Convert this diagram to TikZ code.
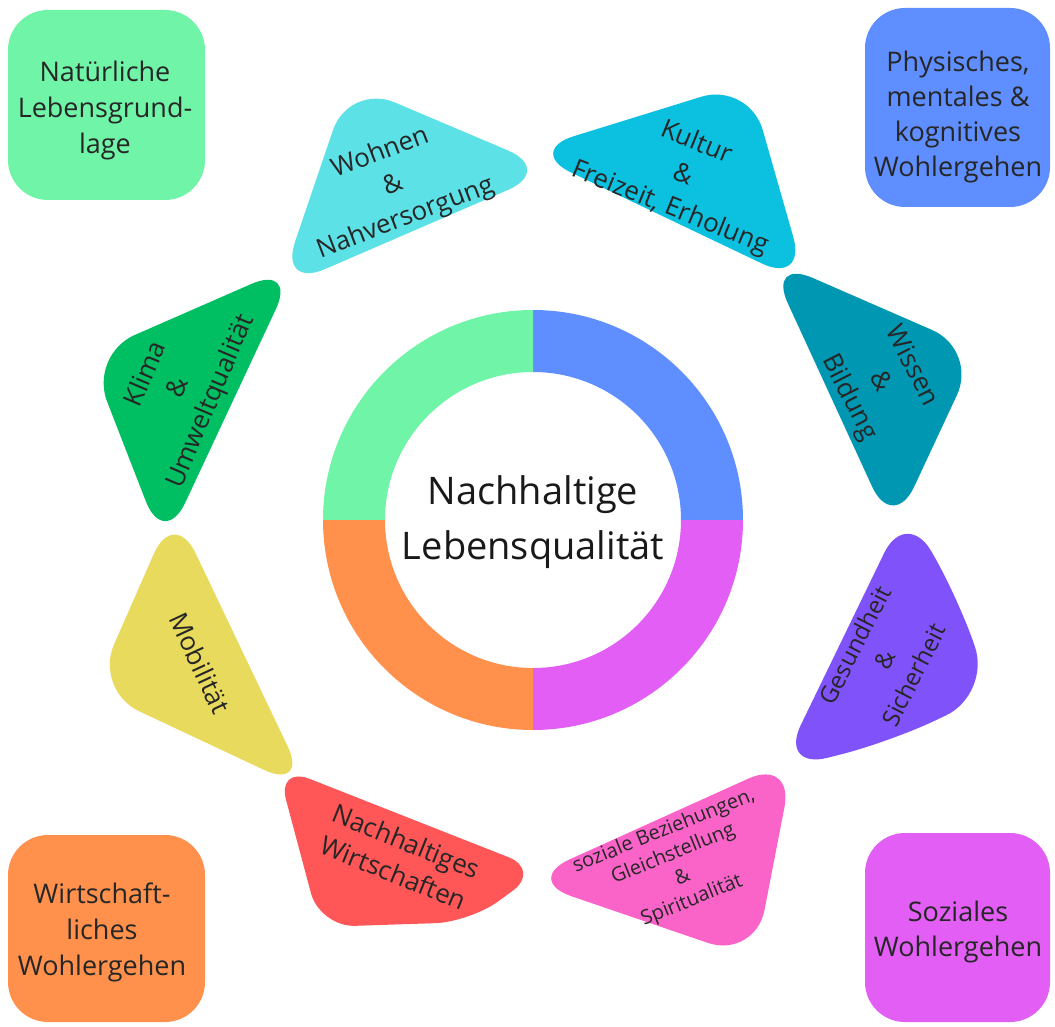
\documentclass[tikz,border=0pt]{standalone}
\usepackage{fontspec}
\setmainfont{Open Sans}
\usetikzlibrary{positioning}
\definecolor{LQGreen}{RGB}{112,245,168}
\definecolor{LQBlue}{RGB}{94,142,255}
\definecolor{LQOrange}{RGB}{255,145,77}
\definecolor{LQMagenta}{RGB}{226,94,245}
\definecolor{LQTurq}{RGB}{92,225,230}
\definecolor{LQCyan}{RGB}{12,192,223}
\definecolor{LQLeaf}{RGB}{0,191,99}
\definecolor{LQTeal}{RGB}{0,151,178}
\definecolor{LQYellow}{RGB}{232,218,92}
\definecolor{LQViolet}{RGB}{128,82,250}
\definecolor{LQRed}{RGB}{255,87,87}
\definecolor{LQPink}{RGB}{250,100,200}

\begin{document}
\begin{tikzpicture}[x=1pt, y=1pt,
    corner/.style={rounded corners=40pt},
    blob/.style={rounded corners=50pt},
    cornertext/.style={align=center, font=\fontsize{27}{36}\selectfont, text=black!85},
    blobtext/.style={align=center, font=\fontsize{26}{35}\selectfont, text=black!85}
  ]
  \useasboundingbox (0,0) rectangle (1055,-1027);
  \fill[white] (0,0) rectangle (1055,-1027);

  % corner boxes
  \fill[LQGreen, corner]   (8,-10)   rectangle (205,-200);
  \fill[LQBlue, corner]    (865,-8)  rectangle (1050,-207);
  \fill[LQOrange, corner]  (8,-835)  rectangle (205,-1022);
  \fill[LQMagenta, corner] (865,-833) rectangle (1050,-1022);

  \node[cornertext] (natur) at (105,-110) {Natürliche\\Lebensgrund-\\lage};
  \node[cornertext, font=\fontsize{27}{35}\selectfont] (physis) at (958,-117)
        {Physisches,\\mentales \&\\kognitives\\Wohlergehen};
  \node[cornertext] (wirt) at (102,-932) {Wirtschaft-\\liches\\Wohlergehen};
  \node[cornertext, font=\fontsize{27}{35}\selectfont] (sozwohl) at (958,-932)
        {Soziales\\Wohlergehen};

  % ring
  \foreach \a/\c in {0/LQBlue, 90/LQGreen, 180/LQOrange, 270/LQMagenta} {
    \fill[\c] (533,-520) ++(\a:148) -- ++(\a:62)
      arc[start angle=\a, end angle=\a+90, radius=210]
      -- ++(\a+270:62)
      arc[start angle=\a+90, end angle=\a, radius=148] -- cycle;
  }
  \node[align=center, font=\fontsize{38}{55}\selectfont, text=black!90] (core)
        at (533,-522) {Nachhaltige\\Lebensqualität};

  % blobs
  \fill[LQTurq, blob]   (349,-83)  -- (554,-170) -- (279,-289) -- cycle;
  \fill[LQCyan, blob]   (526,-151) -- (749,-82)  -- (807,-285) -- cycle;
  \fill[LQLeaf, blob]   (297,-264) -- (89,-355)  -- (164,-548) -- cycle;
  \fill[LQTeal, blob]   (767,-258) -- (978,-350) -- (893,-532) -- cycle;
  \fill[LQYellow, blob] (174,-508) -- (94,-690)  -- (309,-791) -- cycle;
  \fill[LQViolet, blob] (906,-508) -- (958,-597) -- (991,-694) -- (890,-742)
        -- (779,-770) -- cycle;
  \fill[LQRed, rounded corners=35pt] (277,-766) -- (541,-870) -- (470,-922)
        -- (320,-927) -- cycle;
  \fill[LQPink, blob]   (794,-758) -- (755,-959) -- (524,-880) -- cycle;

  \node[blobtext, rotate=21]  (wohnen) at (393,-186) {Wohnen\\\&\\Nahversorgung};
  \node[blobtext, rotate=-22] (kultur) at (683,-176) {Kultur\\\&\\Freizeit, Erholung};
  \node[blobtext, rotate=67]  (klima)  at (179,-388) {Klima\\\&\\Umweltqualität};
  \node[blobtext, rotate=-63] (wissen) at (880,-382) {Wissen\\\&\\Bildung};
  \node[blobtext, rotate=-65] (mobil)  at (200,-663) {Mobilität};
  \node[blobtext, font=\fontsize{24}{33}\selectfont, rotate=63] (gesund)
        at (884,-660) {Gesundheit\\\&\\Sicherheit};
  \node[blobtext, font=\fontsize{26}{34}\selectfont, rotate=-22] (nachwirt)
        at (400,-857) {Nachhaltiges\\Wirtschaften};
  \node[blobtext, font=\fontsize{20}{25}\selectfont, rotate=22] (sozial)
        at (678,-866) {soziale Beziehungen,\\Gleichstellung\\\&\\Spiritualität};
\end{tikzpicture}
\end{document}
